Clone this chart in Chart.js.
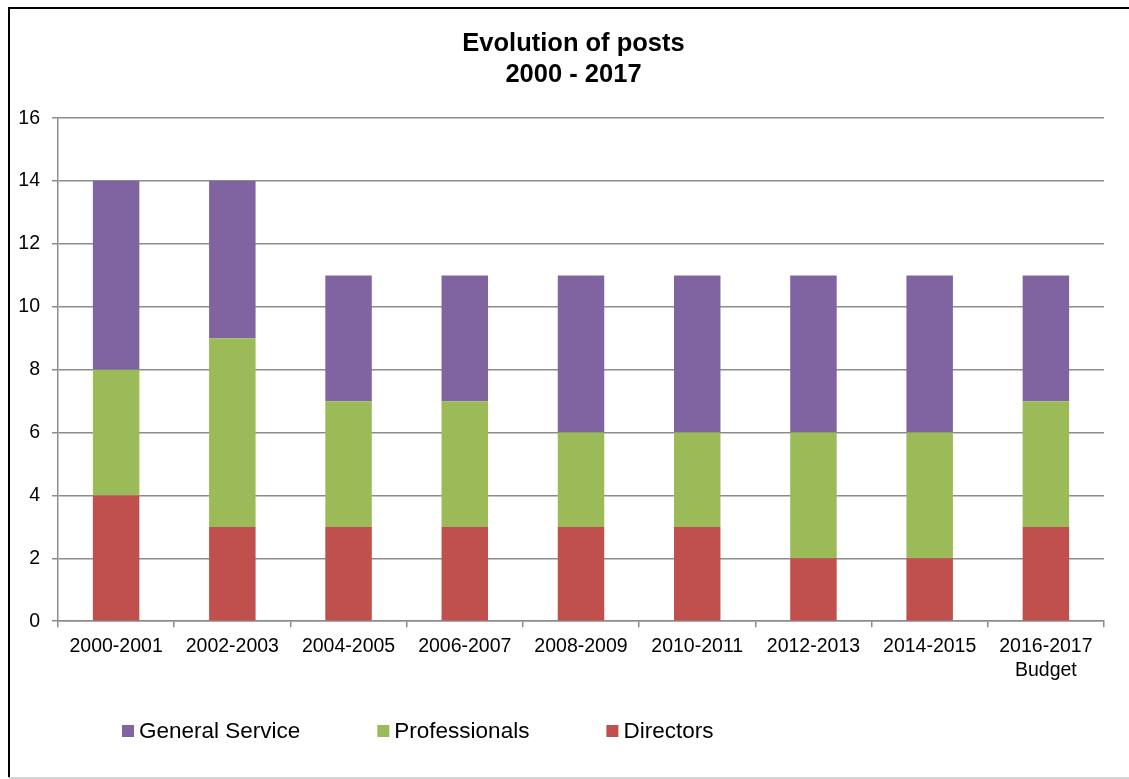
<!DOCTYPE html>
<html>
<head>
<meta charset="utf-8">
<script src="https://cdn.jsdelivr.net/npm/chart.js@4/dist/chart.umd.min.js"></script>
<style>
  html, body { margin: 0; padding: 0; background: #fff; }
  canvas { display: block; }
</style>
</head>
<body>
<canvas id="c" width="1129" height="779"></canvas>
<script>
const categories = ['2000-2001', '2002-2003', '2004-2005', '2006-2007', '2008-2009', '2010-2011', '2012-2013', '2014-2015', ['2016-2017', 'Budget']];
const directors = [4, 3, 3, 3, 3, 3, 2, 2, 3];
const professionals = [4, 6, 4, 4, 3, 3, 4, 4, 4];
const generalService = [6, 5, 4, 4, 5, 5, 5, 5, 4];
const yTicks = [0, 2, 4, 6, 8, 10, 12, 14, 16];

const FONT = "'Liberation Sans', Arial, sans-serif";
const GRID = '#8c8c8c';

const framePlugin = {
  id: 'frame',
  beforeDraw(chart) {
    const ctx = chart.ctx;
    ctx.save();
    ctx.fillStyle = '#ffffff';
    ctx.fillRect(0, 0, chart.width, chart.height);
    ctx.fillStyle = '#000000';
    ctx.fillRect(8, 7, 2, 772);
    ctx.fillRect(8, 7, 1121, 2);
    ctx.fillStyle = '#d4d4d4';
    ctx.fillRect(8, 777, 1121, 2);
    ctx.restore();
  }
};

const legendPlugin = {
  id: 'customLegend',
  afterDraw(chart) {
    const ctx = chart.ctx;
    ctx.save();
    ctx.font = '22.5px ' + FONT;
    ctx.textBaseline = 'middle';
    ctx.textAlign = 'left';
    let x = 122;
    const y = 731;
    const ds = chart.data.datasets.slice().reverse();
    ds.forEach(d => {
      ctx.fillStyle = d.backgroundColor;
      ctx.fillRect(x, y - 6, 12, 12);
      ctx.fillStyle = '#000000';
      ctx.fillText(d.label, x + 17, y + 1);
      x += 17 + ctx.measureText(d.label).width + 77;
    });
    ctx.restore();
  }
};

new Chart(document.getElementById('c'), {
  type: 'bar',
  data: {
    labels: categories,
    datasets: [
      { label: 'Directors', data: directors, backgroundColor: '#C0504D' },
      { label: 'Professionals', data: professionals, backgroundColor: '#9BBB59' },
      { label: 'General Service', data: generalService, backgroundColor: '#8064A2' }
    ]
  },
  options: {
    responsive: false,
    animation: false,
    devicePixelRatio: 1,
    layout: { padding: { top: 0, left: 18, right: 0, bottom: 89 } },
    datasets: { bar: { barPercentage: 0.4, categoryPercentage: 1.0 } },
    plugins: {
      legend: { display: false },
      tooltip: { enabled: false },
      title: {
        display: true,
        text: ['Evolution of posts', '2000 - 2017'],
        color: '#000000',
        font: { family: FONT, size: 25.5, weight: 'bold', lineHeight: 1.2 },
        padding: { top: 29, bottom: 28 }
      }
    },
    scales: {
      x: {
        stacked: true,
        offset: true,
        grid: { display: true, drawOnChartArea: false, drawTicks: true, tickLength: 6, color: GRID, lineWidth: 1.5, offset: true },
        border: { display: true, color: GRID, width: 1.5 },
        ticks: { color: '#000000', font: { family: FONT, size: 19.5, lineHeight: 1.2 }, maxRotation: 0, autoSkip: false, padding: 8 }
      },
      y: {
        stacked: true,
        min: 0,
        max: 16,
        afterBuildTicks(scale) { scale.ticks = yTicks.map(v => ({ value: v })); },
        afterFit(scale) { scale.width = 40; },
        grid: { color: GRID, lineWidth: 1.5, tickLength: 6, drawTicks: true },
        border: { display: true, color: GRID, width: 1.5 },
        ticks: { color: '#000000', font: { family: FONT, size: 19.5 }, padding: 12 }
      },
      y2: {
        position: 'right',
        display: true,
        grid: { display: false, drawTicks: false },
        border: { display: false },
        ticks: { display: false },
        afterFit(scale) { scale.width = 25; }
      }
    }
  },
  plugins: [framePlugin, legendPlugin]
});
</script>
</body>
</html>
